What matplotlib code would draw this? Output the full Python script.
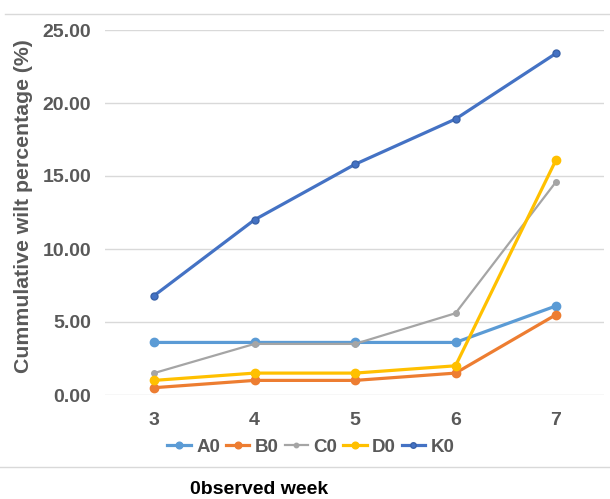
import matplotlib
matplotlib.use("Agg")
import matplotlib.pyplot as plt
from matplotlib.lines import Line2D

weeks = [3, 4, 5, 6, 7]
A0 = [3.6, 3.6, 3.6, 3.6, 6.1]
B0 = [0.5, 1.0, 1.0, 1.5, 5.5]
C0 = [1.5, 3.5, 3.5, 5.6, 14.6]
D0 = [1.0, 1.5, 1.5, 2.0, 16.1]
K0 = [6.8, 12.0, 15.8, 18.9, 23.4]
yticks = [0, 5, 10, 15, 20, 25]

plt.rcParams['font.family'] = ['Liberation Sans', 'DejaVu Sans']

fig = plt.figure(figsize=(6.10, 4.99), dpi=100)
L, R, T, B = 105, 604, 30, 395
ax = fig.add_axes([L/610, 1-B/499, (R-L)/610, (B-T)/499])

series = [
    ("A0", A0, "#5B9BD5", 2.3, 6),
    ("B0", B0, "#ED7D31", 2.3, 6),
    ("C0", C0, "#A5A5A5", 1.6, 4),
    ("D0", D0, "#FFC000", 2.3, 6),
    ("K0", K0, "#4472C4", 2.3, 5),
]
for name, vals, col, lw, ms in series:
    if name == "K0":
        ax.plot(weeks, vals, color=col, lw=lw, marker='o', ms=ms,
                markerfacecolor="#4472C4", markeredgecolor="#3A62A8", label=name, zorder=3)
    else:
        ax.plot(weeks, vals, color=col, lw=lw, marker='o', ms=ms, label=name, zorder=3)

ax.set_xlim(3 - 49/100.5, 7 + 48/100.5)
ax.set_ylim(0, 25)
ax.set_yticks(yticks)
ax.set_yticklabels([f"{v:.2f}" for v in yticks])
ax.set_xticks(weeks)
ax.grid(axis='y', color='#D9D9D9', lw=1)
ax.set_axisbelow(True)
for s in ax.spines.values():
    s.set_visible(False)
ax.tick_params(length=0, labelsize=14, labelcolor='#595959')
for lab in ax.get_xticklabels() + ax.get_yticklabels():
    lab.set_fontweight('bold')
ax.tick_params(axis='x', pad=12)
ax.tick_params(axis='y', pad=10)

fig.text(24/610, 1-206/499, "Cummulative wilt percentage (%)", fontsize=15.3, fontweight='bold',
         color='#595959', rotation=90, va='center', ha='center')

leg = fig.legend(loc='center', bbox_to_anchor=(311/610, 1-447/499), ncol=5, frameon=False,
                 handlelength=1.25, handletextpad=0.3, columnspacing=0.3,
                 markerscale=0.8, borderpad=0.1,
                 prop={'weight': 'bold', 'size': 13.5})
for t in leg.get_texts():
    t.set_color('#595959')

fig.add_artist(Line2D([5/610, 1], [1-14/499, 1-14/499], color='#D9D9D9', lw=1))
fig.add_artist(Line2D([0, 1], [1-467/499, 1-467/499], color='#D9D9D9', lw=1))
fig.text(190/610, 1-490/499, "0bserved week", fontsize=14, fontweight='bold',
         color='black', va='center', ha='left')

fig.savefig("out.png", dpi=100)
